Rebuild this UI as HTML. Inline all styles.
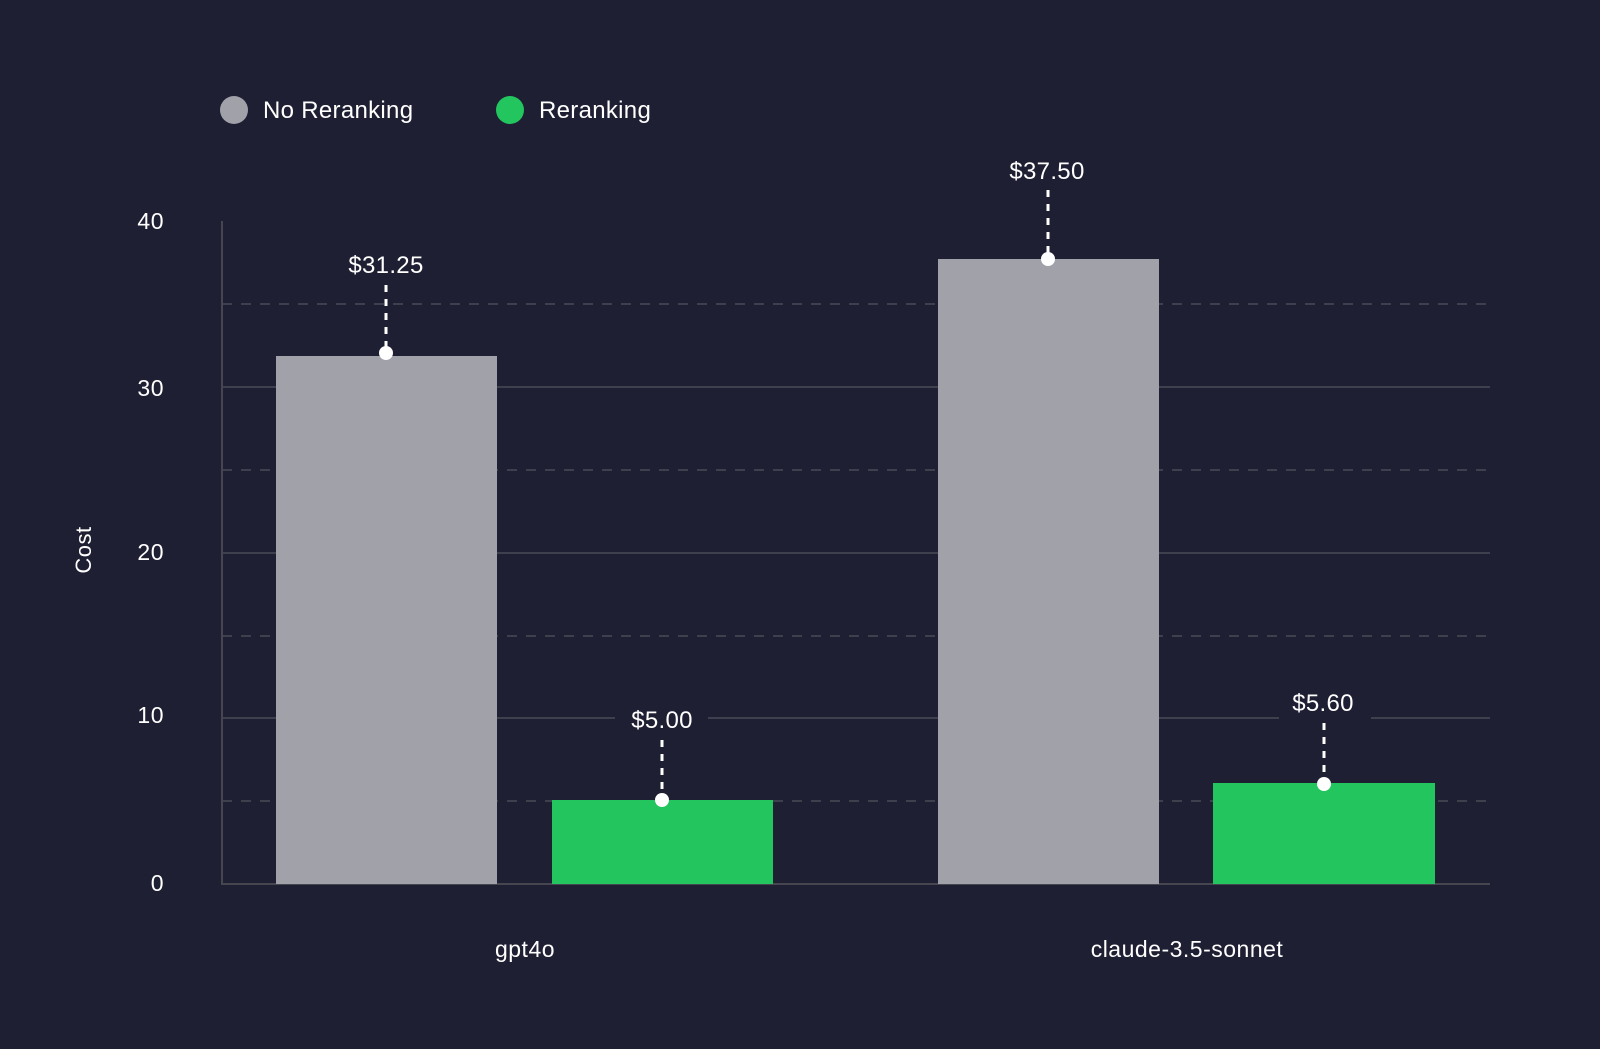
<!DOCTYPE html>
<html><head><meta charset="utf-8"><style>
html,body{margin:0;padding:0;background:#1e1f33;}
svg{display:block}
text{font-family:"Liberation Sans",sans-serif;fill:#ffffff;}
</style></head><body>
<svg width="1600" height="1049" viewBox="0 0 1600 1049" xmlns="http://www.w3.org/2000/svg">
<rect width="1600" height="1049" fill="#1e1f33"/>
<circle cx="234" cy="110" r="14" fill="#a1a1aa"/>
<text x="263" y="118" font-size="24" letter-spacing="0.3">No Reranking</text>
<circle cx="510" cy="110" r="14" fill="#22c55e"/>
<text x="539" y="118" font-size="24" letter-spacing="0.3">Reranking</text>
<g stroke="#3f404d" stroke-width="2">
<line x1="222" y1="387" x2="1490" y2="387"/>
<line x1="222" y1="553" x2="1490" y2="553"/>
<line x1="222" y1="718" x2="1490" y2="718"/>
</g>
<g stroke="#3f404d" stroke-width="2" stroke-dasharray="10,9">
<line x1="222" y1="304" x2="1490" y2="304"/>
<line x1="222" y1="470" x2="1490" y2="470"/>
<line x1="222" y1="636" x2="1490" y2="636"/>
<line x1="222" y1="801" x2="1490" y2="801"/>
</g>
<line x1="222" y1="221" x2="222" y2="885" stroke="#45464f" stroke-width="2"/>
<line x1="222" y1="884" x2="1490" y2="884" stroke="#45464f" stroke-width="2"/>
<g font-size="23" text-anchor="end" letter-spacing="0.5">
<text x="164" y="229">40</text>
<text x="164" y="396">30</text>
<text x="164" y="560">20</text>
<text x="164" y="723">10</text>
<text x="164" y="891">0</text>
</g>
<text x="0" y="0" font-size="22" text-anchor="middle" letter-spacing="0.5" transform="translate(91,550) rotate(-90)">Cost</text>
<rect x="276" y="356" width="221" height="528" fill="#a1a1aa"/>
<rect x="552" y="800" width="221" height="84" fill="#22c55e"/>
<rect x="938" y="259" width="221" height="625" fill="#a1a1aa"/>
<rect x="1213" y="783" width="222" height="101" fill="#22c55e"/>
<rect x="615" y="700" width="93" height="36" fill="#1e1f33"/>
<rect x="1279" y="684" width="92" height="36" fill="#1e1f33"/>
<g stroke="#ffffff" stroke-width="3" stroke-dasharray="7,7">
<line x1="386" y1="285" x2="386" y2="350"/>
<line x1="1048" y1="190" x2="1048" y2="253"/>
<line x1="662" y1="740" x2="662" y2="795"/>
<line x1="1324" y1="723" x2="1324" y2="778"/>
</g>
<g fill="#ffffff">
<circle cx="386" cy="353" r="7"/>
<circle cx="1048" cy="259" r="7"/>
<circle cx="662" cy="800" r="7"/>
<circle cx="1324" cy="784" r="7"/>
</g>
<g font-size="24" text-anchor="middle" letter-spacing="0.3">
<text x="386" y="273">$31.25</text>
<text x="1047" y="179">$37.50</text>
<text x="662" y="728">$5.00</text>
<text x="1323" y="711">$5.60</text>
</g>
<g font-size="23" text-anchor="middle" letter-spacing="0.5">
<text x="525" y="957">gpt4o</text>
<text x="1187" y="957">claude-3.5-sonnet</text>
</g>
</svg>
</body></html>
